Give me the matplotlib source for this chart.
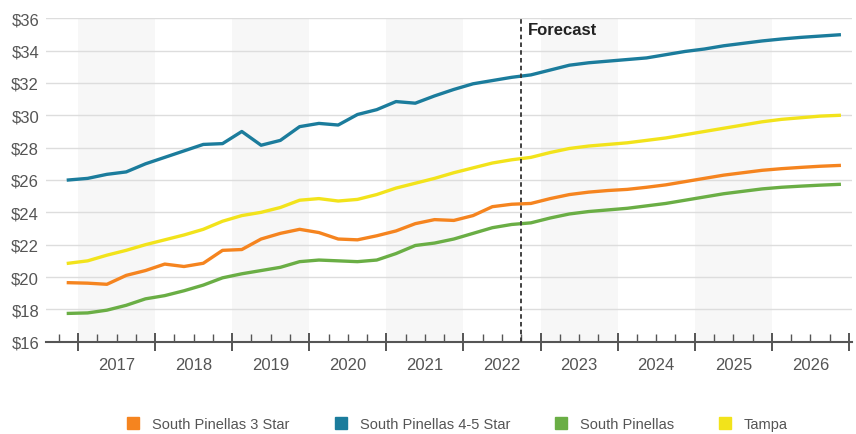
import numpy as np
import matplotlib.pyplot as plt
from matplotlib.transforms import blended_transform_factory
from matplotlib.lines import Line2D

plt.rcParams['font.family'] = ['Liberation Sans', 'DejaVu Sans']

# quarterly, 2016 Q4 .. 2026 Q4, plotted at quarter mid-points
quarters = np.arange(41)
xq = 2016.75 + (quarters + 0.5) / 4.0

star3 = [19.65, 19.62, 19.55, 20.1, 20.4, 20.8, 20.65, 20.85, 21.65, 21.7,
         22.35, 22.7, 22.95, 22.75, 22.35, 22.3, 22.55, 22.85, 23.3, 23.55,
         23.5, 23.8, 24.35, 24.5, 24.55, 24.85, 25.1, 25.25, 25.35, 25.42,
         25.55, 25.7, 25.9, 26.1, 26.3, 26.45, 26.6, 26.7, 26.78, 26.85, 26.9]
star45 = [26.0, 26.1, 26.35, 26.5, 27.0, 27.4, 27.8, 28.2, 28.25, 29.0,
          28.15, 28.45, 29.3, 29.5, 29.4, 30.05, 30.35, 30.85, 30.75, 31.2,
          31.6, 31.95, 32.15, 32.35, 32.5, 32.8, 33.1, 33.25, 33.35, 33.45,
          33.55, 33.75, 33.95, 34.1, 34.3, 34.45, 34.6, 34.72, 34.82, 34.9, 34.98]
pinellas = [17.75, 17.78, 17.95, 18.25, 18.65, 18.85, 19.15, 19.5, 19.95, 20.2,
            20.4, 20.6, 20.95, 21.05, 21.0, 20.95, 21.05, 21.45, 21.95, 22.1,
            22.35, 22.7, 23.05, 23.25, 23.35, 23.65, 23.9, 24.05, 24.15, 24.25,
            24.4, 24.55, 24.75, 24.95, 25.15, 25.3, 25.45, 25.55, 25.62, 25.68, 25.73]
tampa = [20.85, 21.0, 21.35, 21.65, 22.0, 22.3, 22.6, 22.95, 23.45, 23.8,
         24.0, 24.3, 24.75, 24.85, 24.7, 24.8, 25.1, 25.5, 25.8, 26.1,
         26.45, 26.75, 27.05, 27.25, 27.4, 27.7, 27.95, 28.1, 28.2, 28.3,
         28.45, 28.6, 28.8, 29.0, 29.2, 29.4, 29.6, 29.75, 29.85, 29.95, 30.0]

names = ['South Pinellas 3 Star', 'South Pinellas 4-5 Star', 'South Pinellas', 'Tampa']
colors = ['#f5841f', '#1b7c9c', '#6aae45', '#f2e31b']
years = list(range(2017, 2027))
forecast_x = 2022.75

fig = plt.figure(figsize=(8.56, 4.35), dpi=100)
ax = fig.add_axes([46/856, 1 - 342.7/435, (852-46)/856, (342.7-19.3)/435])

# alternating year bands (very faint)
for y in years[::2]:
    ax.axvspan(y, y + 1, color='#f7f7f7', zorder=0, lw=0)

for v in range(18, 37, 2):
    ax.axhline(v, color='#dddddd', lw=1, zorder=1)

for vals, c in zip([star3, star45, pinellas, tampa], colors):
    ax.plot(xq, vals, color=c, lw=2.4, zorder=3, solid_joinstyle='round')

ax.axvline(forecast_x, color='#333333', lw=1.3, ls=(0, (2.5, 1.8)), zorder=4)
ax.text(forecast_x + 0.08, 35.75, 'Forecast', fontsize=12, fontweight='bold',
        color='#222222', va='top', ha='left')

ax.set_xlim(2016.585, 2027.04)
ax.set_ylim(16, 36)
ax.set_yticks(range(16, 37, 2))
ax.set_yticklabels(['$%d' % v for v in range(16, 37, 2)], fontsize=12, color='#555555')
ax.tick_params(axis='y', length=0, pad=5)

ax.set_xticks(range(2017, 2028))
ax.set_xticklabels([])
ax.set_xticks(np.arange(2016.75, 2027.01, 0.25), minor=True)
ax.tick_params(axis='x', which='major', direction='inout', length=13, width=1.4, color='#555555')
ax.tick_params(axis='x', which='minor', direction='in', length=6, width=1, color='#555555')

trans = blended_transform_factory(ax.transData, ax.transAxes)
for y in years:
    ax.text(y + 0.5, -0.048, str(y), transform=trans, ha='center', va='top',
            fontsize=12, color='#555555')

for s in ['top', 'right', 'left']:
    ax.spines[s].set_visible(False)
ax.spines['bottom'].set_color('#555555')
ax.spines['bottom'].set_linewidth(1.5)

handles = [Line2D([], [], marker='s', ls='', color=c, markersize=9) for c in colors]
fig.legend(handles, names, loc='center', bbox_to_anchor=(0.533, 10/435), ncol=4,
           frameon=False, fontsize=10.5, labelcolor='#555555', columnspacing=2.9,
           handlelength=1.2, handletextpad=0.7)

fig.savefig('out.png', dpi=100)
